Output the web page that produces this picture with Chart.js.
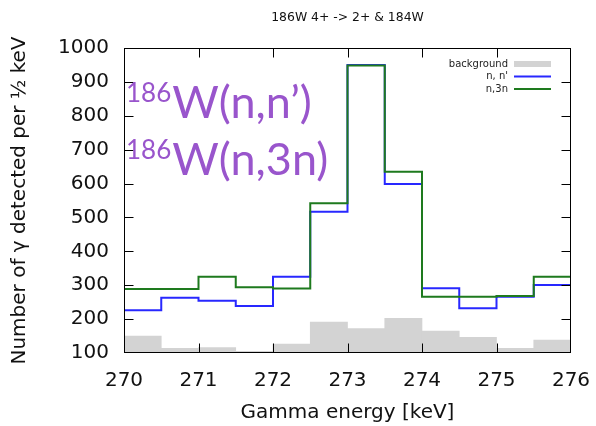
<!DOCTYPE html>
<html><head><meta charset="utf-8">
<script src="https://cdn.jsdelivr.net/npm/chart.js@4/dist/chart.umd.min.js"></script>
<style>html,body{margin:0;padding:0;background:#fff}#wrap{width:596px;height:426px;position:relative}canvas{display:block}</style>
</head><body><div id="wrap"><canvas id="c" width="596" height="426"></canvas></div>
<script>
// bin edges (keV), 0.5 keV bins; first and last bins lie just outside the plotted range
const binEdges = [269.5, 270, 270.5, 271, 271.5, 272, 272.5, 273, 273.5, 274, 274.5, 275, 275.5, 276, 276.5];
const nnPrime = [275, 226, 263, 254, 239, 325, 517, 950, 599, 291, 232, 266, 301, 301];
const n3n     = [289, 289, 289, 325, 294, 290, 542, 948, 635, 266, 266, 268, 325, 339];
const backgroundCounts = [null, 150, 114, 116, 105, 126, 191, 172, 202, 165, 146, 114, 138, null];
const seriesLabels = ['background', "n, n'", 'n,3n'];
const xTickValues = [270, 271, 272, 273, 274, 275, 276];
const chartTitle = '186W 4+ -> 2+ & 184W';
const xAxisTitle = 'Gamma energy [keV]';
const yAxisTitle = 'Number of γ detected per ½ keV';
const annotationLines = [['186', 'W(n,n’)'], ['186', 'W(n,3n)']];

const stepPoints = vals => {
  const pts = vals.map((v, i) => ({x: binEdges[i], y: v}));
  pts.push({x: binEdges[binEdges.length - 1], y: vals[vals.length - 1]});
  return pts;
};
const barPoints = vals => vals.map((v, i) => ({x: (binEdges[i] + binEdges[i + 1]) / 2, y: v}));

const FONT = "'DejaVu Sans', sans-serif";

const decorPlugin = {
  id: 'decor',
  afterDatasetsDraw(chart) {
    const {ctx, chartArea: a, scales: {x, y}} = chart;
    ctx.save();
    ctx.strokeStyle = '#000';
    ctx.lineWidth = 1;
    const L = a.left + 0.5, R = a.right - 0.5, T = a.top + 0.5, B = a.bottom - 0.5;
    const tl = 9;
    ctx.beginPath();
    x.ticks.forEach(t => {
      const px = Math.round(x.getPixelForValue(t.value)) + 0.5;
      if (px <= L + 1 || px >= R - 1) return;
      ctx.moveTo(px, B); ctx.lineTo(px, B - tl);
      ctx.moveTo(px, T); ctx.lineTo(px, T + tl);
    });
    y.ticks.forEach(t => {
      const py = Math.round(y.getPixelForValue(t.value)) + 0.5;
      if (py <= T + 1 || py >= B - 1) return;
      ctx.moveTo(L, py); ctx.lineTo(L + tl, py);
      ctx.moveTo(R, py); ctx.lineTo(R - tl, py);
    });
    ctx.stroke();
    ctx.strokeRect(L, T, R - L, B - T);
    ctx.restore();
  },
  afterDraw(chart) {
    const {ctx, chartArea: a} = chart;
    ctx.save();
    // title
    ctx.fillStyle = '#111';
    ctx.font = '12.4px ' + FONT;
    ctx.textAlign = 'center';
    ctx.textBaseline = 'middle';
    ctx.fillText(chartTitle, (a.left + a.right) / 2, 18);
    // legend
    ctx.font = '10px ' + FONT;
    ctx.textAlign = 'right';
    const rows = [64, 76.5, 89];
    const ds = chart.data.datasets;
    const legendOrder = [2, 1, 0];
    legendOrder.forEach((di, r) => {
      const d = ds[di];
      ctx.fillStyle = '#222';
      ctx.fillText(d.label, 508, rows[r]);
      if (d.type === 'bar') {
        ctx.fillStyle = d.backgroundColor;
        ctx.fillRect(514, rows[r] - 3, 37, 6);
      } else {
        ctx.strokeStyle = d.borderColor;
        ctx.lineWidth = 2;
        ctx.beginPath(); ctx.moveTo(514, rows[r]); ctx.lineTo(551, rows[r]); ctx.stroke();
      }
    });
    // annotations
    ctx.fillStyle = '#9955cc';
    ctx.textAlign = 'left';
    ctx.textBaseline = 'alphabetic';
    const bases = [[102, 118], [159, 175]];
    annotationLines.forEach((parts, i) => {
      ctx.font = '26px Lato';
      ctx.fillText(parts[0], 126, bases[i][0]);
      const w = ctx.measureText(parts[0]).width;
      ctx.font = '45px Lato';
      ctx.fillText(parts[1], 126 + w + 1, bases[i][1]);
    });
    ctx.restore();
  }
};

new Chart(document.getElementById('c'), {
  type: 'line',
  data: {
    datasets: [
      {label: seriesLabels[2], type: 'line', data: stepPoints(n3n), stepped: 'before',
       borderColor: 'rgb(30,122,30)', borderWidth: 2, pointRadius: 0, fill: false, order: 1},
      {label: seriesLabels[1], type: 'line', data: stepPoints(nnPrime), stepped: 'before',
       borderColor: 'rgb(40,40,255)', borderWidth: 2, pointRadius: 0, fill: false, order: 2},
      {label: seriesLabels[0], type: 'bar', data: barPoints(backgroundCounts),
       backgroundColor: '#d3d3d3', borderWidth: 0, barPercentage: 1, categoryPercentage: 1, order: 3}
    ]
  },
  options: {
    responsive: false,
    animation: false,
    devicePixelRatio: 1,
    layout: {padding: {top: 48, right: 25, left: 0, bottom: 0}},
    plugins: {legend: {display: false}, title: {display: false}, tooltip: {enabled: false}},
    scales: {
      x: {
        type: 'linear', min: 270, max: 276, offset: false,
        afterBuildTicks: s => { s.ticks = xTickValues.map(v => ({value: v})); },
        afterFit: s => { s.height = 73; s.paddingLeft = 0; s.paddingRight = 0; },
        grid: {display: false, drawTicks: false, offset: false},
        border: {display: false},
        ticks: {font: {family: FONT, size: 20}, color: '#111', padding: 16, maxRotation: 0,
                callback: v => String(v)},
        title: {display: true, text: xAxisTitle, font: {family: FONT, size: 20}, color: '#111', padding: {top: 0, bottom: 1}}
      },
      y: {
        type: 'linear', min: 100, max: 1000,
        afterFit: s => { s.width = 124; },
        grid: {display: false, drawTicks: false},
        border: {display: false},
        ticks: {stepSize: 100, font: {family: FONT, size: 20}, color: '#111', padding: 15,
                callback: v => String(v)},
        title: {display: true, text: yAxisTitle, font: {family: FONT, size: 20}, color: '#111', padding: {top: 8, bottom: 0}}
      }
    }
  },
  plugins: [decorPlugin]
});
</script>
</body></html>
